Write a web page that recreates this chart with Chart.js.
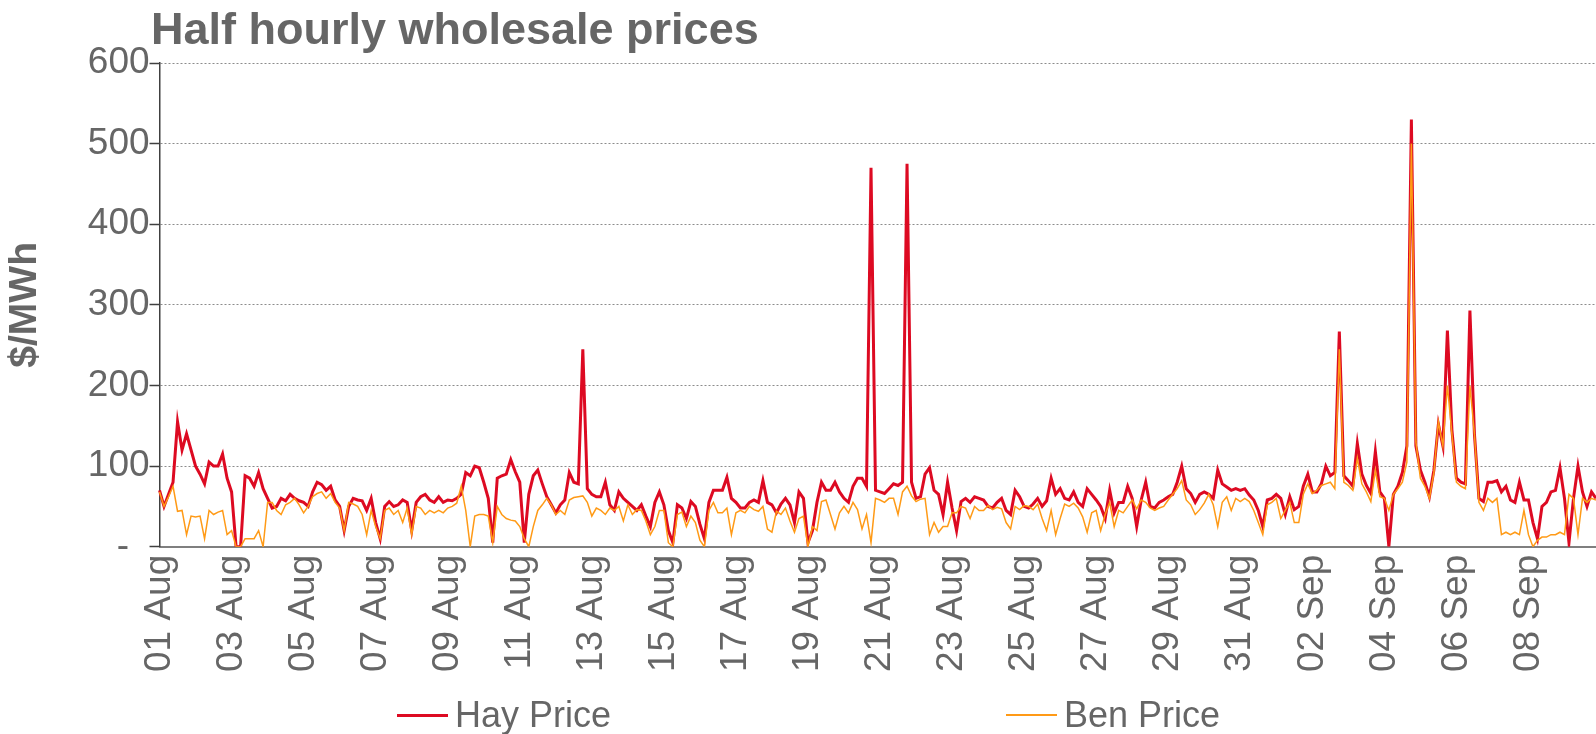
<!DOCTYPE html>
<html>
<head>
<meta charset="utf-8">
<script src="https://cdn.jsdelivr.net/npm/chart.js@4.4.0/dist/chart.umd.min.js"></script>
<style>
  html, body { margin: 0; padding: 0; background: #fff; }
  #wrap { position: relative; width: 1596px; height: 734px; overflow: hidden; }
  #titulo { position: absolute; left: 151px; top: 6px; margin: 0; font: bold 45px/45px "Liberation Sans", Arial, sans-serif; color: #666; }
  #leyenda { position: absolute; left: 397px; top: 697px; display: flex; gap: 395px; }
  .item { display: flex; align-items: center; font: 36px/36px "Liberation Sans", Arial, sans-serif; color: #666; }
  .item i { display: inline-block; width: 51px; margin-right: 7px; }
</style>
</head>
<body>
<div id="wrap">
  <canvas id="chart" width="1596" height="734"></canvas>
  <h1 id="titulo">Half hourly wholesale prices</h1>
  <div id="leyenda"></div>
</div>
<script>
// one label per day, 8 readings per day (every 3 hours)
const dayLabels = [
  '01 Aug', '02 Aug', '03 Aug', '04 Aug', '05 Aug', '06 Aug', '07 Aug', '08 Aug', '09 Aug', '10 Aug',
  '11 Aug', '12 Aug', '13 Aug', '14 Aug', '15 Aug', '16 Aug', '17 Aug', '18 Aug', '19 Aug', '20 Aug',
  '21 Aug', '22 Aug', '23 Aug', '24 Aug', '25 Aug', '26 Aug', '27 Aug', '28 Aug', '29 Aug', '30 Aug',
  '31 Aug', '01 Sep', '02 Sep', '03 Sep', '04 Sep', '05 Sep', '06 Sep', '07 Sep', '08 Sep', '09 Sep'
];
const slotsPerDay = 8;
const yTicks = [0, 100, 200, 300, 400, 500, 600];

const hayPrice = [
  70, 50, 65, 80, 155, 120, 140, 120,   100, 90, 78, 105, 100, 100, 115, 85,
  68, 0, 0, 88, 85, 75, 92, 72,         60, 48, 50, 60, 57, 65, 60, 57,
  55, 50, 68, 80, 77, 70, 75, 58,       50, 20, 50, 60, 58, 57, 45, 60,
  30, 10, 50, 56, 50, 52, 58, 55,       20, 55, 62, 65, 58, 55, 62, 55,
  58, 57, 60, 65, 92, 88, 100, 98,      80, 60, 5, 85, 88, 90, 108, 93,
  80, 5, 65, 88, 95, 78, 62, 52,        42, 52, 58, 92, 80, 78, 245, 72,
  65, 62, 62, 80, 52, 45, 68, 60,       55, 50, 45, 52, 38, 25, 55, 68,
  52, 20, 5, 52, 48, 35, 56, 50,        28, 10, 55, 70, 70, 70, 86, 60,
  55, 48, 48, 55, 58, 55, 82, 55,       52, 42, 53, 60, 52, 30, 68, 60,
  5, 20, 55, 80, 70, 70, 80, 68,        60, 55, 75, 85, 85, 75, 470, 70,
  68, 66, 72, 78, 76, 80, 475, 80,      60, 62, 90, 98, 70, 65, 40, 80,
  48, 20, 56, 60, 55, 62, 60, 58,       50, 48, 55, 60, 45, 40, 70, 62,
  50, 48, 53, 60, 50, 57, 85, 65,       72, 60, 58, 68, 55, 50, 72, 65,
  58, 50, 35, 70, 42, 55, 55, 75,       60, 25, 58, 80, 50, 48, 55, 58,
  62, 65, 80, 100, 72, 66, 55, 65,      68, 65, 60, 95, 78, 74, 70, 72,
  70, 72, 64, 58, 45, 25, 58, 60,       65, 60, 40, 62, 46, 50, 75, 90,
  68, 68, 78, 100, 88, 92, 267, 88,     82, 75, 128, 90, 76, 66, 118, 68,
  60, 0, 65, 75, 92, 125, 530, 125,     95, 80, 62, 95, 152, 125, 268, 145,
  85, 80, 78, 293, 140, 60, 56, 80,     80, 82, 68, 75, 58, 55, 80, 58,
  58, 30, 10, 50, 55, 68, 70, 98,       60, 5, 60, 100, 68, 50, 68, 60
];

const benPrice = [
  68, 50, 62, 75, 44, 45, 15, 38,       37, 38, 10, 45, 40, 43, 45, 15,
  20, 0, 0, 10, 10, 10, 20, 0,          55, 55, 45, 40, 52, 55, 60, 52,
  42, 50, 62, 66, 68, 60, 66, 55,       48, 20, 55, 53, 50, 40, 15, 45,
  25, 10, 45, 48, 40, 45, 30, 48,       15, 50, 48, 40, 45, 42, 45, 42,
  48, 50, 54, 75, 45, 0, 38, 40,        40, 38, 5, 50, 40, 35, 33, 32,
  25, 10, 0, 25, 45, 52, 60, 52,        40, 45, 40, 58, 61, 62, 63, 55,
  38, 48, 45, 40, 48, 45, 50, 32,       52, 40, 46, 45, 32, 15, 25, 45,
  45, 5, 0, 40, 43, 25, 38, 30,         8, 0, 45, 55, 42, 42, 48, 15,
  42, 45, 42, 50, 46, 44, 50, 22,       18, 44, 40, 48, 32, 18, 35, 38,
  0, 25, 20, 56, 58, 40, 22, 42,        50, 42, 55, 46, 22, 40, 5, 60,
  58, 55, 60, 60, 40, 68, 75, 63,       56, 59, 60, 15, 30, 18, 25, 25,
  42, 42, 50, 48, 35, 50, 45, 45,       51, 46, 49, 47, 30, 22, 50, 46,
  51, 50, 46, 53, 35, 20, 45, 15,       35, 53, 50, 54, 48, 37, 18, 42,
  45, 20, 40, 55, 25, 45, 42, 50,       58, 47, 58, 55, 48, 45, 48, 50,
  58, 65, 72, 82, 58, 52, 40, 46,       54, 65, 52, 25, 55, 62, 45, 60,
  56, 60, 56, 45, 30, 15, 52, 55,       60, 35, 45, 55, 30, 30, 65, 78,
  66, 70, 76, 78, 80, 72, 245, 80,      76, 70, 110, 78, 68, 56, 95, 62,
  60, 45, 65, 72, 80, 105, 500, 130,    85, 75, 60, 92, 155, 125, 200, 140,
  80, 75, 72, 200, 140, 55, 45, 60,     55, 60, 15, 18, 15, 18, 15, 45,
  15, 0, 8, 12, 12, 15, 15, 18,         15, 65, 60, 15, 60, 55, 60, 58
];

const labels = dayLabels.flatMap(d => Array(slotsPerDay).fill(d));

Chart.defaults.font.family = '"Liberation Sans", Arial, sans-serif';
Chart.defaults.color = '#666';

const chart = new Chart(document.getElementById('chart'), {
    type: 'line',
    data: {
        labels: labels,
        datasets: [
            { label: 'Hay Price', data: hayPrice, borderColor: '#DD0A22', borderWidth: 3, order: 1 },
            { label: 'Ben Price', data: benPrice, borderColor: '#FF9A16', borderWidth: 1.5, order: 0 }
        ]
    },
    options: {
        responsive: false,
        animation: false,
        layout: { padding: { top: 63, bottom: 54, left: 0, right: 0 } },
        elements: { point: { radius: 0 }, line: { tension: 0 } },
        plugins: { legend: { display: false }, tooltip: { enabled: false } },
        scales: {
            x: {
                grid: { display: false, drawTicks: false },
                border: { display: true, color: '#7f7f7f', width: 2 },
                ticks: {
                    autoSkip: false, minRotation: 90, maxRotation: 90, padding: 8,
                    font: { size: 37 }, color: '#666',
                    callback: function (val, idx) {
                        return idx % (slotsPerDay * 2) === 0 ? this.getLabelForValue(val) : null;
                    }
                }
            },
            y: {
                min: yTicks[0], max: yTicks[yTicks.length - 1],
                afterBuildTicks: axis => { axis.ticks = yTicks.map(v => ({ value: v })); },
                grid: {
                    color: ctx => ctx.tick && ctx.tick.value === 0 ? 'rgba(0,0,0,0)' : '#8c8c8c',
                    lineWidth: 1, tickLength: 10, tickColor: '#404040', tickWidth: 1.5
                },
                border: { display: true, color: '#404040', width: 1.5, dash: [2, 2] },
                ticks: {
                    padding: 0, font: { size: 37 }, color: '#666',
                    callback: v => v === 0 ? '-  ' : v
                },
                title: {
                    display: true, text: '$/MWh', color: '#666',
                    font: { size: 39, weight: 'bold' },
                    padding: { top: 2, bottom: 39 }
                }
            }
        }
    }
});

// legend below the chart, built from the datasets
const leyenda = document.getElementById('leyenda');
chart.data.datasets.forEach(ds => {
    const div = document.createElement('div');
    div.className = 'item';
    div.innerHTML = `<i style="height:${ds.borderWidth}px;background:${ds.borderColor}"></i>${ds.label}`;
    leyenda.appendChild(div);
});
</script>
</body>
</html>
